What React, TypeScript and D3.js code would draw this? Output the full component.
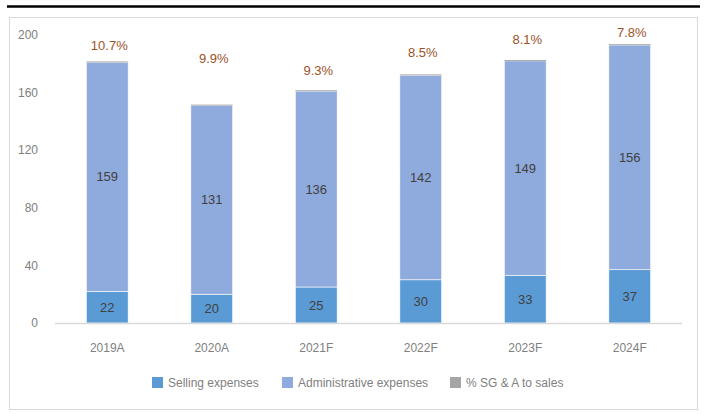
import * as d3 from "d3";

const years = ["2019A", "2020A", "2021F", "2022F", "2023F", "2024F"];
const selling = [22, 20, 25, 30, 33, 37];
const admin = [159, 131, 136, 142, 149, 156];
const sgaPct = [0.107, 0.099, 0.093, 0.085, 0.081, 0.078];
const yTicks = [0, 40, 80, 120, 160, 200];

// hand-placed % labels in the source: gap (px) between bar top and label centre
const pctLabelGap = [17, 47, 21, 23, 21, 13];

const W = 707;
const H = 414;
const PLOT = { left: 55, right: 682, top: 35, bottom: 323 };

const COLORS = { selling: "#5B9BD5", admin: "#8FAADC", pct: "#A5A5A5" };
const FONT = "'Liberation Sans', Arial, sans-serif";

export default function App() {
  const x = d3
    .scaleBand<string>()
    .domain(years)
    .range([PLOT.left, PLOT.right])
    .paddingInner(0.6)
    .paddingOuter(0.3);
  const y = d3.scaleLinear().domain([0, 200]).range([PLOT.bottom, PLOT.top]);

  const rows = years.map((yr, i) => ({ yr, s: selling[i], a: admin[i], p: sgaPct[i] }));
  const stack = d3
    .stack<(typeof rows)[number]>()
    .keys(["s", "a", "p"])
    .value((d, k) => (d as any)[k]);
  const series = stack(rows);
  const fills = [COLORS.selling, COLORS.admin, COLORS.pct];
  const bw = x.bandwidth();

  const legend = [
    { label: "Selling expenses", color: COLORS.selling, x: 152 },
    { label: "Administrative expenses", color: COLORS.admin, x: 282 },
    { label: "% SG & A to sales", color: COLORS.pct, x: 450 },
  ];

  return (
    <svg
      width={W}
      height={H}
      style={{ position: "absolute", left: 0, top: 0, fontFamily: FONT }}
    >
      <rect width={W} height={H} fill="#fff" />
      <line x1={7} x2={700} y1={6.5} y2={6.5} stroke="#000" strokeWidth={2.5} />
      <rect x={9.5} y={17.5} width={688} height={392} fill="none" stroke="#D9D9D9" />

      {yTicks.map((t) => (
        <text
          key={t}
          x={38}
          y={y(t)}
          dy="0.35em"
          textAnchor="end"
          fontSize={12}
          fill="#808080"
        >
          {t}
        </text>
      ))}

      {series.map((ser, si) => (
        <g key={si}>
          {ser.map((d, i) => {
            const top = y(d[1]);
            const h = y(d[0]) - top;
            // the % series is tiny on this axis; give it a hairline so it shows
            return si === 2 ? (
              <rect
                key={i}
                x={x(years[i])}
                y={top - 0.8}
                width={bw}
                height={Math.max(h, 0) + 0.8}
                fill={fills[si]}
              />
            ) : (
              <rect
                key={i}
                x={x(years[i])}
                y={top}
                width={bw}
                height={h}
                fill={fills[si]}
                stroke="#fff"
                strokeWidth={0.6}
              />
            );
          })}
        </g>
      ))}

      <line
        x1={PLOT.left}
        x2={PLOT.right}
        y1={PLOT.bottom + 0.5}
        y2={PLOT.bottom + 0.5}
        stroke="#D9D9D9"
        strokeWidth={1.5}
      />

      {rows.map((r, i) => {
        const cx = (x(r.yr) ?? 0) + bw / 2;
        const top = y(r.s + r.a + r.p);
        return (
          <g key={r.yr} fontSize={13}>
            <text x={cx} y={(y(0) + y(r.s)) / 2} dy="0.35em" textAnchor="middle" fill="#404040">
              {r.s}
            </text>
            <text
              x={cx}
              y={(y(r.s) + y(r.s + r.a)) / 2}
              dy="0.35em"
              textAnchor="middle"
              fill="#404040"
            >
              {r.a}
            </text>
            <text
              x={cx + 2}
              y={top - pctLabelGap[i]}
              dy="0.35em"
              textAnchor="middle"
              fill="#9C5228"
            >
              {(r.p * 100).toFixed(1)}%
            </text>
            <text x={cx} y={348} dy="0.35em" textAnchor="middle" fontSize={12} fill="#808080">
              {r.yr}
            </text>
          </g>
        );
      })}

      {legend.map((l) => (
        <g key={l.label} transform={`translate(${l.x},377)`}>
          <rect width={11} height={11} fill={l.color} />
          <text x={16} y={5.5} dy="0.35em" fontSize={12} fill="#808080">
            {l.label}
          </text>
        </g>
      ))}
    </svg>
  );
}
